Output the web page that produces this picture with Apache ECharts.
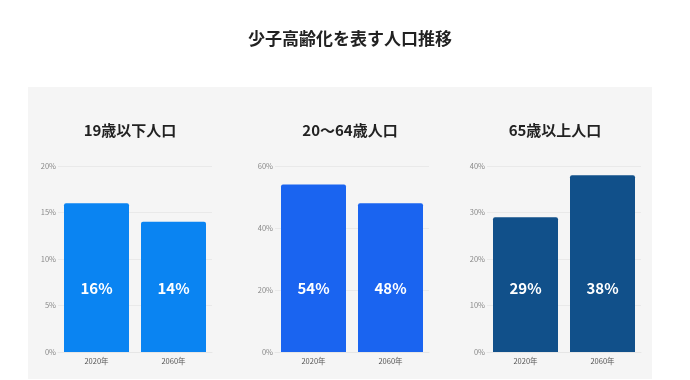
<!DOCTYPE html>
<html>
<head>
<meta charset="utf-8">
<script src="https://cdn.jsdelivr.net/npm/echarts@6/dist/echarts.min.js"></script>
<style>html,body{margin:0;padding:0;background:#fff;}#c{width:690px;height:380px;}</style>
</head>
<body>
<div id="c"></div>
<script>
const mainTitle = "少子高齢化を表す人口推移";
const panelTitles = ["19歳以下人口", "20〜64歳人口", "65歳以上人口"];
const categories = ["2020年", "2060年"];
const youngValues = [16, 14];
const workingValues = [54, 48];
const elderlyValues = [29, 38];
const axisMax = [20, 60, 40];
const axisInterval = [5, 20, 10];
const barColors = ["#0A84F2", "#1A64F0", "#11508A"];

const FONT = "'Noto Sans CJK JP', 'Noto Sans', sans-serif";
const seriesValues = [youngValues, workingValues, elderlyValues];
const gridLefts = [58, 275, 487];
const gridWidth = 154;
const titleCenters = [125, 345, 550];

const chart = echarts.init(document.getElementById('c'), null, {renderer: 'canvas'});

const grids = [], xAxes = [], yAxes = [], series = [];
const titles = [{
  text: mainTitle, left: 345, top: 25, textAlign: 'center',
  textStyle: {fontFamily: FONT, fontSize: 17, fontWeight: 'bold', color: '#222'}
}];
for (let i = 0; i < 3; i++) {
  titles.push({
    text: panelTitles[i], left: titleCenters[i], top: 118, textAlign: 'center',
    textStyle: {fontFamily: FONT, fontSize: 15, fontWeight: 'bold', color: '#222'}
  });
  grids.push({left: gridLefts[i], width: gridWidth, top: 166, height: 186});
  xAxes.push({
    type: 'category', gridIndex: i, data: categories,
    axisLine: {show: true, lineStyle: {color: '#e6e6e6'}},
    axisTick: {show: false},
    axisLabel: {fontFamily: FONT, fontSize: 7.5, color: '#555', margin: 5}
  });
  yAxes.push({
    type: 'value', gridIndex: i, min: 0, max: axisMax[i], interval: axisInterval[i],
    axisLine: {show: false}, axisTick: {show: false},
    splitLine: {lineStyle: {color: '#e9e9e9', width: 1}},
    axisLabel: {fontFamily: FONT, fontSize: 7.5, color: '#888', margin: 2, formatter: '{value}%'}
  });
  series.push({
    type: 'bar', xAxisIndex: i, yAxisIndex: i, data: seriesValues[i],
    barWidth: 65,
    itemStyle: {color: barColors[i], borderRadius: [2, 2, 0, 0]},
    label: {
      show: true, position: 'insideBottom', distance: 56,
      formatter: '{c}%', color: '#fff', fontFamily: FONT, fontSize: 15, fontWeight: 'bold'
    },
    silent: true
  });
}

chart.setOption({
  animation: false,
  backgroundColor: '#ffffff',
  graphic: [{
    type: 'rect', left: 28, top: 87, z: -10,
    shape: {width: 624, height: 292},
    style: {fill: '#f5f5f5'}
  }],
  title: titles,
  grid: grids,
  xAxis: xAxes,
  yAxis: yAxes,
  series: series
});
</script>
</body>
</html>
